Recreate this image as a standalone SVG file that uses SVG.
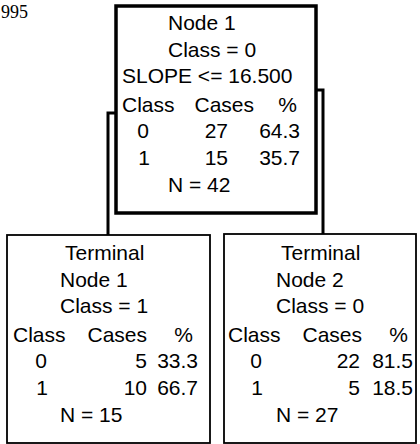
<svg xmlns="http://www.w3.org/2000/svg" width="420" height="444" viewBox="0 0 420 444">
<style>
  text { font-family: "Liberation Sans", Arial, sans-serif; font-size: 21px; fill: #000; }
  .e { text-anchor: end; }
  .m { text-anchor: middle; }
  .root { fill: #fff; stroke: #000; stroke-width: 3.5; }
  .leaf { fill: #fff; stroke: #000; stroke-width: 1.8; }
  .conn { fill: none; stroke: #000; stroke-width: 3; }
  .yr { font-family: "Liberation Serif", "Times New Roman", serif; font-size: 18px; }
</style>
<rect width="420" height="444" fill="#fff"/>
<text class="yr" x="1" y="18">995</text>
<g id="connectors">
  <polyline class="conn" points="115,113 108,113 108,235"/>
  <polyline class="conn" points="316,90 323,90 323,234"/>
</g>
<g id="node1">
  <rect class="root" x="116" y="6" width="200" height="207"/>
  <text x="168" y="30">Node 1</text>
  <text x="168" y="57">Class = 0</text>
  <text x="122" y="83">SLOPE &lt;= 16.500</text>
  <text x="122" y="112">Class</text>
  <text class="e" x="254" y="112">Cases</text>
  <text class="e" x="297" y="112">%</text>
  <text class="m" x="143" y="138">0</text>
  <text class="e" x="228" y="138">27</text>
  <text class="e" x="300" y="138">64.3</text>
  <text class="m" x="144" y="165">1</text>
  <text class="e" x="228" y="165">15</text>
  <text class="e" x="300" y="165">35.7</text>
  <text x="168" y="192">N = 42</text>
</g>
<g id="terminal1">
  <rect class="leaf" x="7" y="235" width="203" height="208"/>
  <text x="65" y="260">Terminal</text>
  <text x="60" y="287">Node 1</text>
  <text x="60" y="313">Class = 1</text>
  <text x="13" y="342">Class</text>
  <text class="e" x="147" y="342">Cases</text>
  <text class="e" x="193" y="342">%</text>
  <text class="m" x="41" y="368">0</text>
  <text class="e" x="147" y="368">5</text>
  <text class="e" x="198" y="368">33.3</text>
  <text class="m" x="42" y="395">1</text>
  <text class="e" x="147" y="395">10</text>
  <text class="e" x="198" y="395">66.7</text>
  <text x="60" y="422">N = 15</text>
</g>
<g id="terminal2">
  <rect class="leaf" x="224" y="234" width="192" height="209"/>
  <text x="281" y="260">Terminal</text>
  <text x="276" y="287">Node 2</text>
  <text x="276" y="313">Class = 0</text>
  <text x="228" y="342">Class</text>
  <text class="e" x="362" y="342">Cases</text>
  <text class="e" x="408" y="342">%</text>
  <text class="m" x="256" y="368">0</text>
  <text class="e" x="360" y="368">22</text>
  <text class="e" x="413" y="368">81.5</text>
  <text class="m" x="257" y="395">1</text>
  <text class="e" x="360" y="395">5</text>
  <text class="e" x="413" y="395">18.5</text>
  <text x="276" y="422">N = 27</text>
</g>
</svg>
